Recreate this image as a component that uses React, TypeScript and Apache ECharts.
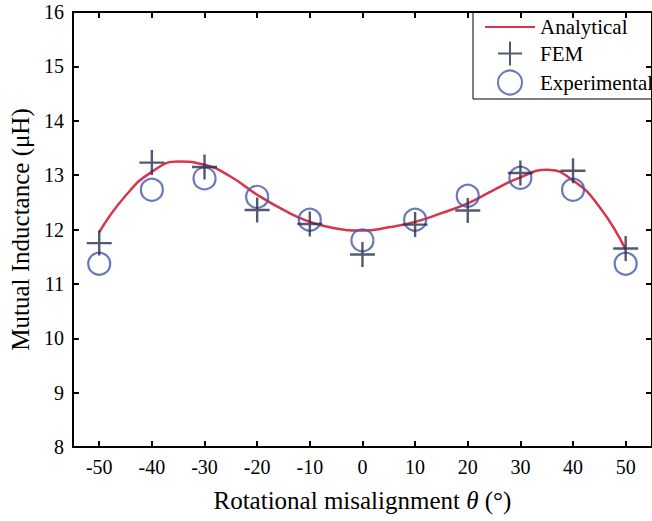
import React, { useEffect, useRef } from "react";
import * as echarts from "echarts";

const angles = [-50, -40, -30, -20, -10, 0, 10, 20, 30, 40, 50];
const femValues = [11.75, 13.23, 13.15, 12.36, 12.1, 11.54, 12.09, 12.35, 13.04, 13.08, 11.65];
const expValues = [11.37, 12.73, 12.94, 12.6, 12.18, 11.8, 12.18, 12.62, 12.95, 12.73, 11.37];
const curveAngles = [-50, -45, -40, -35, -30, -25, -20, -15, -10, -5, 0, 5, 10, 15, 20, 25, 30, 35, 40, 45, 50];
const curveValues = [11.95, 12.62, 13.06, 13.25, 13.19, 12.97, 12.64, 12.36, 12.14, 12.02, 11.98, 12.04, 12.14, 12.3, 12.48, 12.73, 12.96, 13.1, 12.9, 12.42, 11.63];
const xTicks = [-50, -40, -30, -20, -10, 0, 10, 20, 30, 40, 50];
const yTicks = [8, 9, 10, 11, 12, 13, 14, 15, 16];

const FONT = "Liberation Serif, Times New Roman, serif";
const RED = "#d8344b";
const NAVY = "#283050";
const BLUE = "#4558ab";
const CROSS = "path://M12,0 L12,24 M0,12 L24,12";

export default function App() {
  const ref = useRef<HTMLDivElement>(null);
  useEffect(() => {
    if (!ref.current) return;
    const chart = echarts.init(ref.current, null, { renderer: "svg" });
    const axisLine = { show: true, onZero: false, lineStyle: { color: "#000", width: 2 } };
    const xTick = { show: true, inside: true, length: 6, customValues: xTicks, lineStyle: { color: "#000", width: 2 } };
    const yTick = { show: true, inside: true, length: 6, lineStyle: { color: "#000", width: 2 } };
    chart.setOption({
      animation: false,
      backgroundColor: "#fff",
      grid: { left: 72, top: 12, right: -2, bottom: 74, containLabel: false },
      legend: {
        orient: "vertical",
        left: 473,
        top: 12,
        padding: [3, 30, 2, 11],
        borderColor: "#000",
        borderWidth: 1,
        itemWidth: 50,
        itemHeight: 24,
        itemGap: 0,
        textStyle: { fontFamily: FONT, fontSize: 21, color: "#000", lineHeight: 24 },
        data: [
          { name: "Analytical", itemStyle: { color: "rgba(0,0,0,0)", borderWidth: 0, opacity: 0 } },
          { name: "FEM", icon: CROSS, itemStyle: { color: "none", borderColor: NAVY, borderWidth: 2 } },
          { name: "Experimental", icon: "circle", itemStyle: { color: "none", borderColor: BLUE, borderWidth: 2 } },
        ],
      },
      xAxis: [
        {
          type: "value",
          min: -55,
          max: 55,
          position: "bottom",
          axisLine,
          axisTick: xTick,
          splitLine: { show: false },
          axisLabel: {
            fontFamily: FONT,
            fontSize: 20,
            color: "#000",
            margin: 10,
            customValues: xTicks,
          },
          name: "{a|Rotational misalignment }{i|θ}{a| (°)}",
          nameLocation: "middle",
          nameGap: 41,
          nameTextStyle: {
            rich: {
              a: { fontFamily: FONT, fontSize: 25, color: "#000" },
              i: { fontFamily: FONT, fontSize: 25, fontStyle: "italic", color: "#000" },
            },
          },
        },
        {
          type: "value",
          min: -55,
          max: 55,
          position: "top",
          axisLine,
          axisTick: xTick,
          axisLabel: { show: false },
          splitLine: { show: false },
        },
      ],
      yAxis: [
        {
          type: "value",
          min: yTicks[0],
          max: yTicks[yTicks.length - 1],
          interval: 1,
          position: "left",
          axisLine,
          axisTick: yTick,
          splitLine: { show: false },
          axisLabel: { fontFamily: FONT, fontSize: 20, color: "#000", margin: 9 },
          name: "Mutual Inductance (μH)",
          nameLocation: "middle",
          nameGap: 38,
          nameTextStyle: { fontFamily: FONT, fontSize: 25, color: "#000" },
        },
        {
          type: "value",
          min: yTicks[0],
          max: yTicks[yTicks.length - 1],
          interval: 1,
          position: "right",
          axisLine,
          axisTick: yTick,
          axisLabel: { show: false },
          splitLine: { show: false },
        },
      ],
      series: [
        {
          name: "Analytical",
          type: "line",
          smooth: true,
          symbol: "none",
          lineStyle: { color: RED, width: 2.5 },
          itemStyle: { color: RED },
          data: curveAngles.map((a, i) => [a, curveValues[i]]),
          z: 2,
        },
        {
          name: "FEM",
          type: "scatter",
          symbol: CROSS,
          symbolSize: 25,
          itemStyle: { color: "none", borderColor: NAVY, borderWidth: 2.4 },
          data: angles.map((a, i) => [a, femValues[i]]),
          z: 4,
        },
        {
          name: "Experimental",
          type: "scatter",
          symbol: "circle",
          symbolSize: 22,
          itemStyle: { color: "none", borderColor: BLUE, borderWidth: 2.2 },
          data: angles.map((a, i) => [a, expValues[i]]),
          z: 3,
        },
      ],
    });
    return () => chart.dispose();
  }, []);
  return <div ref={ref} style={{ position: "fixed", left: 0, top: 0, width: 652, height: 521 }} />;
}
